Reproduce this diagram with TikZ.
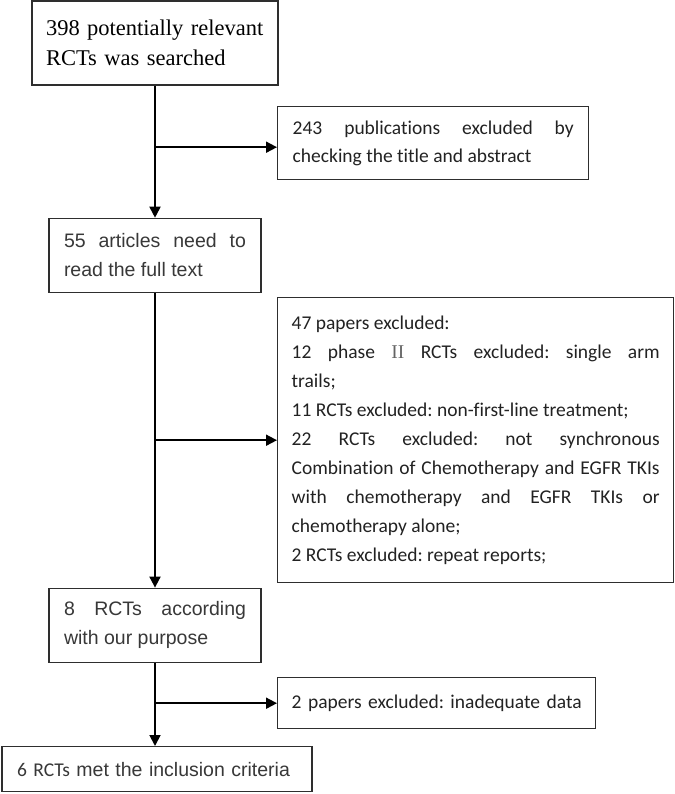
\documentclass[tikz,border=0pt]{standalone}
\usepackage{fontspec}
\setmainfont{Liberation Serif}
\newfontfamily\arialfont{Liberation Sans}
\newfontfamily\calfont{Carlito}[Ligatures=NoCommon]
\newfontfamily\timesfont{Liberation Serif}
\usepackage{tikz}
\usetikzlibrary{arrows.meta, positioning, calc}
\usepackage{xcolor}
\definecolor{boxline}{HTML}{2E2E2E}
\definecolor{boxtext}{HTML}{222222}
\definecolor{sanstext}{HTML}{383838}
\hyphenpenalty=10000
\exhyphenpenalty=10000
\hbadness=10000
\hfuzz=20pt
\frenchspacing

\begin{document}
\begin{tikzpicture}[
    x=1pt, y=1pt,
    node distance=86pt,
    flowbox/.style={draw=boxline, line width=1.4pt, fill=white, inner xsep=15pt, inner ysep=0pt, align=justify, text=boxtext},
    mainfont/.style={font=\fontsize{19.5}{29}\selectfont\arialfont, text=sanstext},
    sidefont/.style={font=\fontsize{19.5}{29.1}\selectfont\calfont},
    flowline/.style={draw=black, line width=1.8pt, -{Triangle[length=11pt, width=11pt]}}
]
    \useasboundingbox (0,0) rectangle (674,-794);

    % main column
    \node[flowbox, align=left, text width=218pt, inner xsep=14pt, minimum height=84pt, font=\fontsize{22.5}{30}\selectfont\timesfont, text=black] (search) at (155,-43) {398 potentially relevant\\RCTs was searched};
    \node[flowbox, mainfont, text width=182pt, minimum height=74pt, below=132pt of search] (fulltext) {55 articles need to read the full text};
    \node[flowbox, mainfont, text width=182pt, minimum height=74pt, below=294.5pt of fulltext] (purpose) {8 RCTs according with our purpose};
    \node[flowbox, mainfont, align=left, text width=280pt, minimum height=45pt, below=83pt of purpose, xshift=2pt] (included) {{\calfont 6 RCTs} met the inclusion criteria};

    % excluded records
    \node[flowbox, sidefont, font=\fontsize{19.5}{28}\selectfont\calfont, text width=281pt, minimum height=73pt, anchor=north west] (screen) at (277,-106) {243 publications excluded by checking the title and abstract};
    \node[flowbox, sidefont, text width=368pt, inner xsep=14pt, minimum height=285pt, anchor=north west] (fullexcl) at (277,-297) {
        47 papers excluded:\\
        12 phase {\timesfont\color{boxtext!70}II} RCTs excluded: single arm\linebreak trails;\\
        11 RCTs excluded: non-first-line treatment;\\
        22 RCTs excluded: not synchronous\linebreak Combination of Chemotherapy and EGFR TKIs\linebreak with chemotherapy and EGFR TKIs or\linebreak chemotherapy alone;\\
        2 RCTs excluded: repeat reports;
    };
    \node[flowbox, sidefont, align=left, text width=290pt, inner xsep=14pt, minimum height=51pt, anchor=north west] (dataexcl) at (277,-677) {\mbox{2 papers excluded: inadequate data}};

    \coordinate (screenin) at ([yshift=-4pt]screen.west);

    \draw[flowline] (search) -- (fulltext);
    \draw[flowline] (fulltext) -- (purpose);
    \draw[flowline] (purpose) -- (purpose |- included.north);
    \draw[flowline] (search.south |- screenin) -- (screenin);
    \draw[flowline] (fulltext.south |- fullexcl.west) -- (fullexcl.west);
    \draw[flowline] (purpose.south |- dataexcl.west) -- (dataexcl.west);
\end{tikzpicture}
\end{document}
